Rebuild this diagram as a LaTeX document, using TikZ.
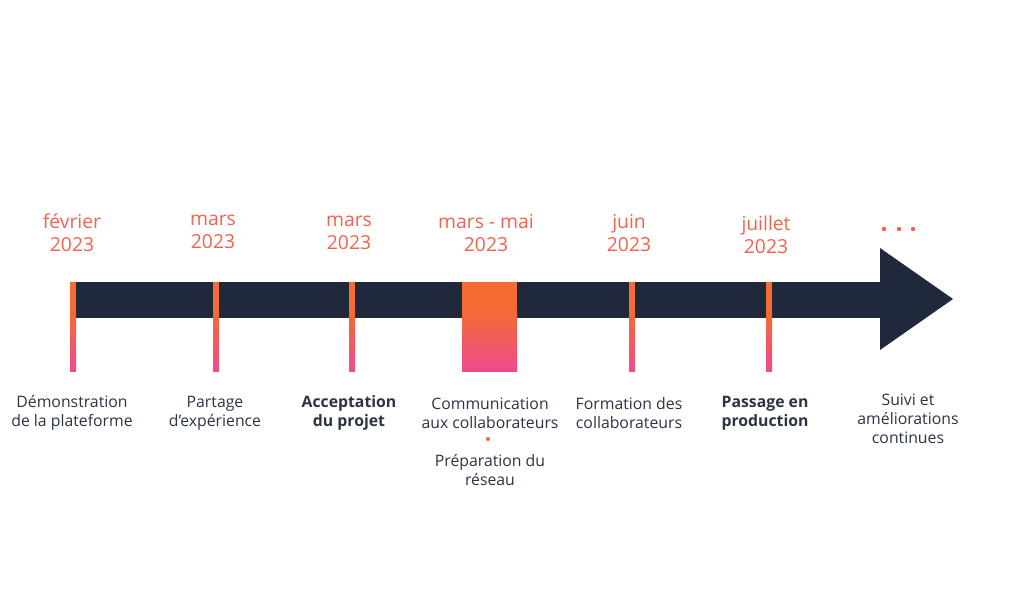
\documentclass[tikz,border=0pt]{standalone}
\usepackage{fontspec}
\setmainfont{Open Sans}
\usetikzlibrary{calc}
\definecolor{barnavy}{HTML}{1F293B}
\definecolor{tickorange}{HTML}{F46B34}
\definecolor{tickpink}{HTML}{EE4B8C}
\definecolor{datered}{HTML}{F2624E}
\definecolor{inkgray}{HTML}{2B3344}

\begin{document}
\begin{tikzpicture}[x=1pt,y=-1pt,
    datelabel/.style={text=datered, align=center, inner sep=0pt, font=\fontsize{19.3}{23}\selectfont},
    steplabel/.style={text=inkgray, align=center, inner sep=0pt, font=\fontsize{15.8}{19}\selectfont},
    keylabel/.style={steplabel, font=\fontsize{15.8}{19}\selectfont\bfseries}]
    \useasboundingbox (0,0) rectangle (1024,600);

    \fill[barnavy] (73,282) rectangle (881,318);
    \fill[barnavy] (880,248) -- (953,299) -- (880,350) -- cycle;

    \fill[tickorange] (70,282) rectangle (76,312);
    \shade[top color=tickorange, bottom color=tickpink] (70,311) rectangle (76,371);
    \fill[tickorange] (213,282) rectangle (219,312);
    \shade[top color=tickorange, bottom color=tickpink] (213,311) rectangle (219,371);
    \fill[tickorange] (349,282) rectangle (355,312);
    \shade[top color=tickorange, bottom color=tickpink] (349,311) rectangle (355,371);
    \fill[tickorange] (462,282) rectangle (517,312);
    \shade[top color=tickorange, bottom color=tickpink] (462,311) rectangle (517,371);
    \fill[tickorange] (629,282) rectangle (635,312);
    \shade[top color=tickorange, bottom color=tickpink] (629,311) rectangle (635,371);
    \fill[tickorange] (766,282) rectangle (772,312);
    \shade[top color=tickorange, bottom color=tickpink] (766,311) rectangle (772,371);

    \node[datelabel] (fev) at (72,233) {février\\2023};
    \node[datelabel] (mars1) at (213,231.5) {mars\\2023};
    \node[datelabel] (mars2) at (349,233) {mars\\2023};
    \node[datelabel] (marsmai) at (486,233) {mars - mai\\2023};
    \node[datelabel] (juin) at (629,233) {juin\\2023};
    \node[datelabel] (juil) at (766,235) {juillet\\2023};
    \fill[datered] (884,229) circle (2.2) (899,229) circle (2.2) (913,229) circle (2.2);

    \node[steplabel] (demo) at (72,413) {Démonstration\\de la plateforme};
    \node[steplabel] (partage) at (215,413) {Partage\\d’expérience};
    \node[keylabel] (accept) at (349,413) {Acceptation\\du projet};
    \node[steplabel] (comm) at (490,413) {Communication\\aux collaborateurs};
    \fill[datered] (488,439) circle (2);
    \node[steplabel] (reseau) at (490,470) {Préparation du\\réseau};
    \node[steplabel] (formation) at (629,413) {Formation des\\collaborateurs};
    \node[keylabel] (prod) at (765,413) {Passage en\\production};
    \node[steplabel] (suivi) at (908,418.5) {Suivi et\\améliorations\\continues};
\end{tikzpicture}
\end{document}
